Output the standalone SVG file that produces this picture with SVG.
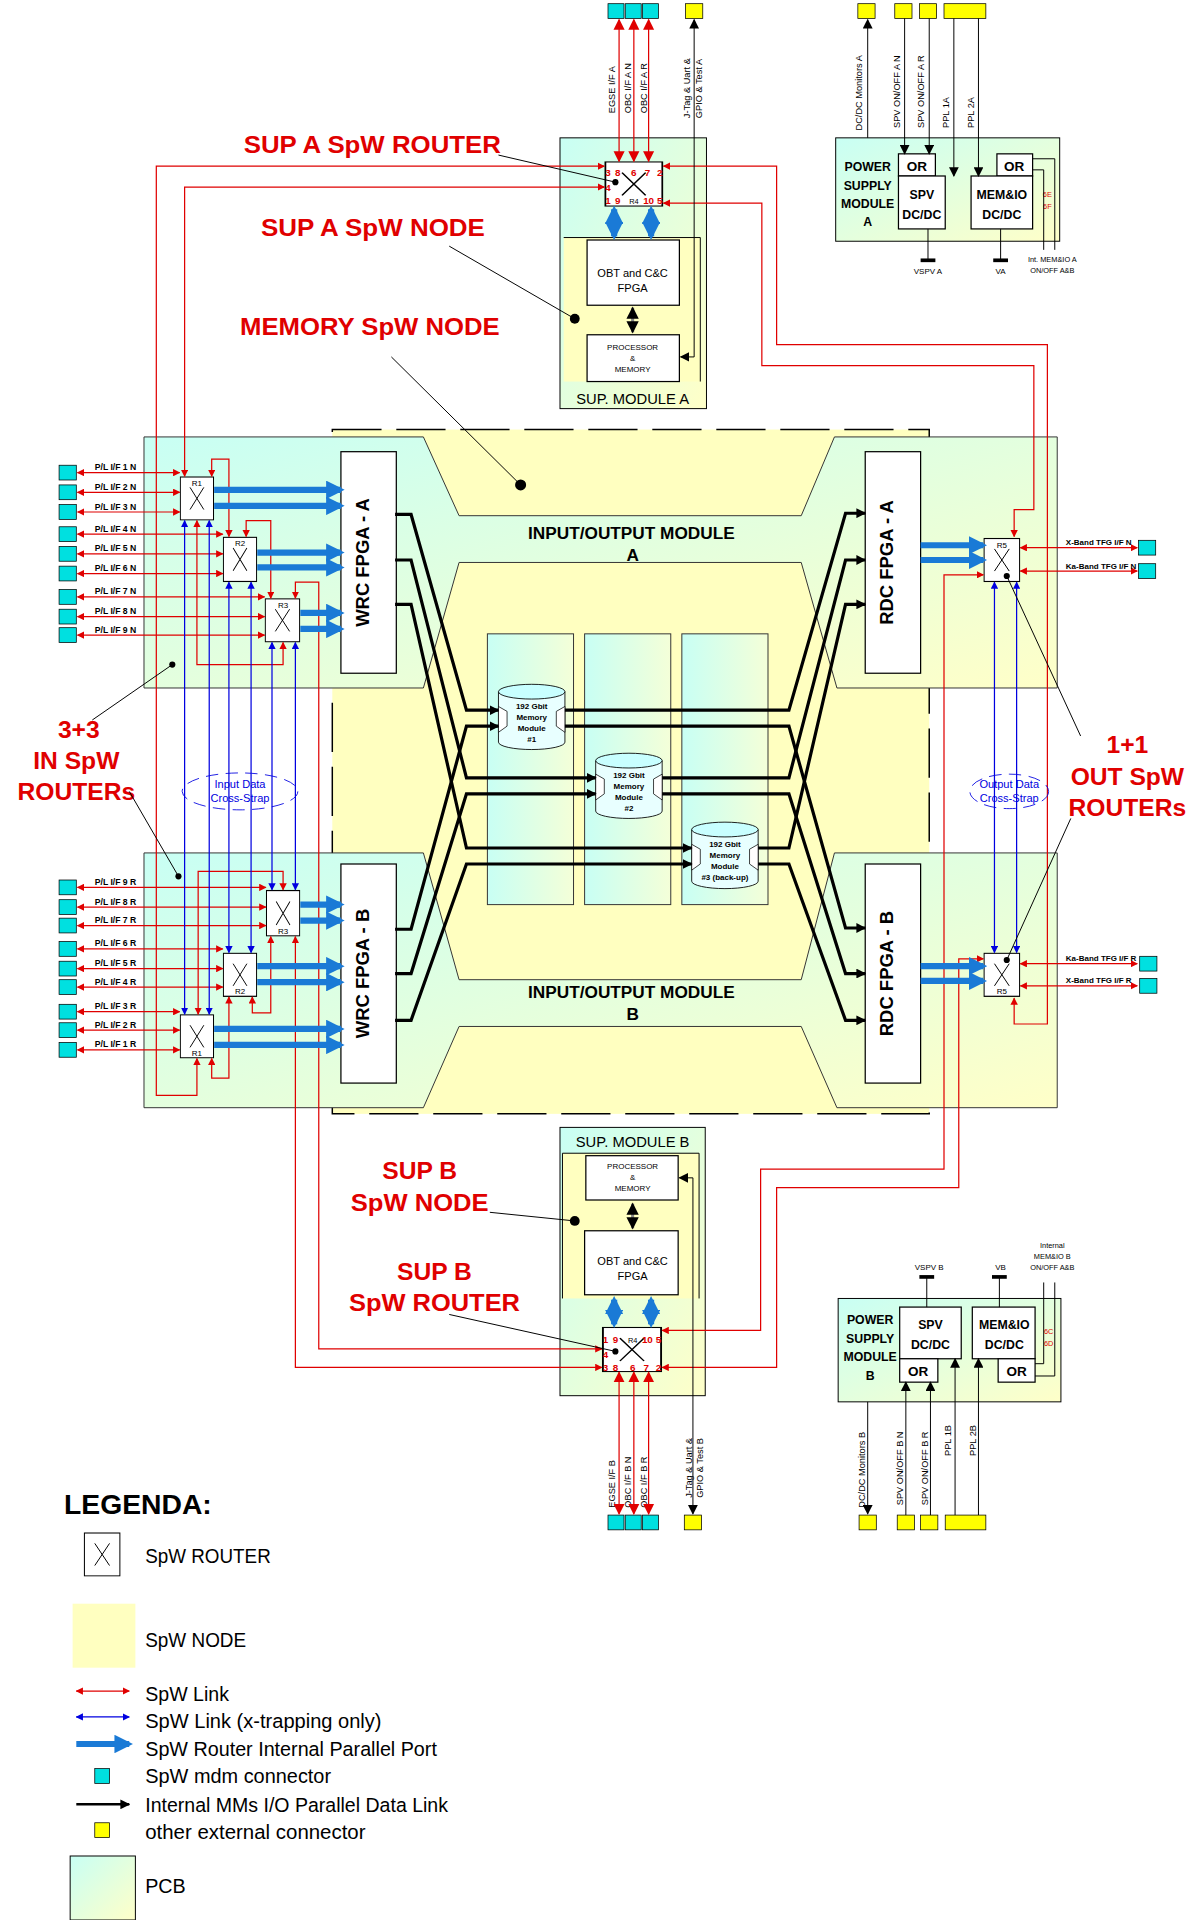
<svg xmlns="http://www.w3.org/2000/svg" width="1200" height="1920" viewBox="0 0 1200 1920">
<defs>
<linearGradient id="pcb" x1="0" y1="0" x2="1" y2="1"><stop offset="0" stop-color="#c8fff4"/><stop offset="1" stop-color="#ffffc8"/></linearGradient>
<linearGradient id="pcbv" x1="0" y1="0" x2="1" y2="0"><stop offset="0" stop-color="#c8fff4"/><stop offset="1" stop-color="#f4ffd8"/></linearGradient>
<marker id="ra" viewBox="0 0 10 10" refX="9" refY="5" markerWidth="6" markerHeight="6" markerUnits="userSpaceOnUse" orient="auto-start-reverse"><path d="M0,0L10,5L0,10z" fill="#e00000"/></marker>
<marker id="rb" viewBox="0 0 10 10" refX="9" refY="5" markerWidth="9" markerHeight="14" markerUnits="userSpaceOnUse" orient="auto-start-reverse"><path d="M0,0L10,5L0,10z" fill="#e00000"/></marker>
<marker id="ba" viewBox="0 0 10 10" refX="9" refY="5" markerWidth="6" markerHeight="6" markerUnits="userSpaceOnUse" orient="auto-start-reverse"><path d="M0,0L10,5L0,10z" fill="#0000e0"/></marker>
<marker id="bt" viewBox="0 0 10 10" refX="8" refY="5" markerWidth="3" markerHeight="3" orient="auto-start-reverse"><path d="M0,0L10,5L0,10z" fill="#1a7ad6"/></marker>
<marker id="ka" viewBox="0 0 10 10" refX="9" refY="5" markerWidth="4" markerHeight="4" orient="auto-start-reverse"><path d="M0,0L10,5L0,10z" fill="#000"/></marker>
<marker id="kt" viewBox="0 0 10 10" refX="9" refY="5" markerWidth="8" markerHeight="8" markerUnits="userSpaceOnUse" orient="auto-start-reverse"><path d="M0,0L10,5L0,10z" fill="#000"/></marker>
<symbol id="rt" viewBox="0 0 30 36" preserveAspectRatio="none"><rect x="0.5" y="0.5" width="29" height="35" fill="#fff" stroke="#000" stroke-width="1"/><path d="M9,9L21,27M21,9L9,27" stroke="#000" stroke-width="0.8" fill="none"/></symbol>
<style>
text{font-family:"Liberation Sans",Arial,sans-serif}
.t{font-size:7px;font-weight:bold}
.rl{fill:none;stroke:#e00000;stroke-width:1}
.bl{fill:none;stroke:#0000e0;stroke-width:1}
.bp{fill:none;stroke:#1a7ad6;stroke-width:5}
.kl{fill:none;stroke:#000;stroke-width:2.6}
.k1{fill:none;stroke:#000;stroke-width:0.8}
.red{fill:#e00000;font-weight:bold}
.pn{fill:#e00000;font-size:8px;font-weight:bold}
.mc{fill:#00e0e0;stroke:#000;stroke-width:0.6}
.yc{fill:#ffff00;stroke:#000;stroke-width:0.6}
.wb{fill:#fff;stroke:#000;stroke-width:1}
</style>
</defs>
<g transform="scale(1.230769)">
<!-- yellow central region -->
<g id="io-area">
<rect x="270" y="349" width="485" height="556" fill="#ffffc0"/>
<rect x="270" y="349" width="485" height="556" fill="none" stroke="#000" stroke-width="1.2" stroke-dasharray="40,12"/>
<polygon points="117,355 344,355 373,419 651,419 678,355 859,355 859,559 680,559 651,457 373,457 344,559 117,559" fill="url(#pcb)" stroke="#333" stroke-width="0.8"/>
<polygon points="117,693 344,693 373,796 651,796 678,693 859,693 859,900 680,900 651,834 373,834 344,900 117,900" fill="url(#pcb)" stroke="#333" stroke-width="0.8"/>
<text x="513" y="438" font-size="14" font-weight="bold" text-anchor="middle">INPUT/OUTPUT MODULE</text>
<text x="514" y="456" font-size="14" font-weight="bold" text-anchor="middle">A</text>
<text x="513" y="811" font-size="14" font-weight="bold" text-anchor="middle">INPUT/OUTPUT MODULE</text>
<text x="514" y="829" font-size="14" font-weight="bold" text-anchor="middle">B</text>
<rect x="396" y="515" width="70" height="220" fill="url(#pcbv)" stroke="#333" stroke-width="0.8"/>
<rect x="475" y="515" width="70" height="220" fill="url(#pcbv)" stroke="#333" stroke-width="0.8"/>
<rect x="554" y="515" width="70" height="220" fill="url(#pcbv)" stroke="#333" stroke-width="0.8"/>
</g>
<g id="fpgas">
<rect x="277" y="367" width="45" height="180" class="wb"/><text transform="translate(296,457) rotate(-90)" font-size="15" font-weight="bold" text-anchor="middle" dominant-baseline="middle">WRC FPGA - A</text>
<rect x="277" y="702" width="45" height="178" class="wb"/><text transform="translate(296,791) rotate(-90)" font-size="15" font-weight="bold" text-anchor="middle" dominant-baseline="middle">WRC FPGA - B</text>
<rect x="703" y="367" width="45" height="180" class="wb"/><text transform="translate(722,457) rotate(-90)" font-size="15" font-weight="bold" text-anchor="middle" dominant-baseline="middle">RDC FPGA - A</text>
<rect x="703" y="702" width="45" height="178" class="wb"/><text transform="translate(722,791) rotate(-90)" font-size="15" font-weight="bold" text-anchor="middle" dominant-baseline="middle">RDC FPGA - B</text>
</g>
<g id="memories">
<g id="mem1"><path d="M405,562 V603 A27,6 0 0 0 459,603 V562" fill="#e8ffff" stroke="#000" stroke-width="0.7"/><ellipse cx="432" cy="562" rx="27" ry="6" fill="#c8ffff" stroke="#000" stroke-width="0.7"/><path d="M405,574 L412,578 V590 L405,595z M459,574 L452,578 V590 L459,595z" fill="#fff" stroke="#000" stroke-width="0.6"/><text x="432" y="576" font-size="6.5" font-weight="bold" text-anchor="middle">192 Gbit</text><text x="432" y="585" font-size="6.5" font-weight="bold" text-anchor="middle">Memory</text><text x="432" y="594" font-size="6.5" font-weight="bold" text-anchor="middle">Module</text><text x="432" y="603" font-size="6.5" font-weight="bold" text-anchor="middle">#1</text></g>
<g id="mem2"><path d="M484,618 V659 A27,6 0 0 0 538,659 V618" fill="#e8ffff" stroke="#000" stroke-width="0.7"/><ellipse cx="511" cy="618" rx="27" ry="6" fill="#c8ffff" stroke="#000" stroke-width="0.7"/><path d="M484,629 L491,633 V645 L484,650z M538,629 L531,633 V645 L538,650z" fill="#fff" stroke="#000" stroke-width="0.6"/><text x="511" y="632" font-size="6.5" font-weight="bold" text-anchor="middle">192 Gbit</text><text x="511" y="641" font-size="6.5" font-weight="bold" text-anchor="middle">Memory</text><text x="511" y="650" font-size="6.5" font-weight="bold" text-anchor="middle">Module</text><text x="511" y="659" font-size="6.5" font-weight="bold" text-anchor="middle">#2</text></g>
<g id="mem3"><path d="M562,674 V716 A27,6 0 0 0 616,716 V674" fill="#e8ffff" stroke="#000" stroke-width="0.7"/><ellipse cx="589" cy="674" rx="27" ry="6" fill="#c8ffff" stroke="#000" stroke-width="0.7"/><path d="M562,686 L569,690 V702 L562,707z M616,686 L609,690 V702 L616,707z" fill="#fff" stroke="#000" stroke-width="0.6"/><text x="589" y="688" font-size="6.5" font-weight="bold" text-anchor="middle">192 Gbit</text><text x="589" y="697" font-size="6.5" font-weight="bold" text-anchor="middle">Memory</text><text x="589" y="706" font-size="6.5" font-weight="bold" text-anchor="middle">Module</text><text x="589" y="715" font-size="6.5" font-weight="bold" text-anchor="middle">#3 (back-up)</text></g>
</g>
<!-- SUP module A -->
<g id="sup-a">
<rect x="455" y="112" width="119" height="220" fill="url(#pcb)" stroke="#000" stroke-width="0.8"/>
<rect x="458" y="193" width="111" height="117" fill="#ffffc0"/>
<polyline points="458,193 569,193 569,310" class="k1"/>
<rect x="477" y="195" width="75" height="53" class="wb"/><text x="514" y="225" font-size="9" text-anchor="middle">OBT and C&amp;C</text><text x="514" y="237" font-size="9" text-anchor="middle">FPGA</text>
<rect x="477" y="272" width="75" height="38" class="wb"/><text x="514" y="284" font-size="6.5" text-anchor="middle">PROCESSOR</text><text x="514" y="293" font-size="6.5" text-anchor="middle">&amp;</text><text x="514" y="302" font-size="6.5" text-anchor="middle">MEMORY</text>
<line x1="514" y1="250" x2="514" y2="270" stroke="#888" stroke-width="2.5" marker-start="url(#ka)" marker-end="url(#ka)"/>
<text x="514" y="328" font-size="12" text-anchor="middle">SUP. MODULE A</text>
</g>
<g id="router-r4a"><use href="#rt" x="491" y="131" width="48" height="37"/>
<text class="pn" x="494" y="143" text-anchor="middle">3</text><text class="pn" x="502" y="143" text-anchor="middle">8</text><text class="pn" x="515" y="143" text-anchor="middle">6</text><text class="pn" x="526" y="143" text-anchor="middle">7</text><text class="pn" x="536" y="143" text-anchor="middle">2</text>
<text class="pn" x="494" y="155" text-anchor="middle">4</text>
<text class="pn" x="494" y="166" text-anchor="middle">1</text><text class="pn" x="502" y="166" text-anchor="middle">9</text><text x="515" y="166" font-size="6" text-anchor="middle">R4</text><text class="pn" x="527" y="166" text-anchor="middle">10</text><text class="pn" x="536" y="166" text-anchor="middle">5</text></g>
<!-- SUP module B -->
<g id="sup-b">
<rect x="455" y="916" width="118" height="218" fill="url(#pcb)" stroke="#000" stroke-width="0.8"/>
<rect x="457" y="937" width="111" height="118" fill="#ffffc0"/>
<polyline points="457,1055 457,937 568,937 568,1055" class="k1"/>
<rect x="476" y="939" width="75" height="36" class="wb"/><text x="514" y="950" font-size="6.5" text-anchor="middle">PROCESSOR</text><text x="514" y="959" font-size="6.5" text-anchor="middle">&amp;</text><text x="514" y="968" font-size="6.5" text-anchor="middle">MEMORY</text>
<rect x="475" y="1000" width="76" height="52" class="wb"/><text x="514" y="1028" font-size="9" text-anchor="middle">OBT and C&amp;C</text><text x="514" y="1040" font-size="9" text-anchor="middle">FPGA</text>
<line x1="514" y1="978" x2="514" y2="998" stroke="#888" stroke-width="2.5" marker-start="url(#ka)" marker-end="url(#ka)"/>
<text x="514" y="932" font-size="12" text-anchor="middle">SUP. MODULE B</text>
</g>
<g id="router-r4b"><use href="#rt" x="489" y="1078" width="49" height="37"/>
<text class="pn" x="492" y="1091" text-anchor="middle">1</text><text class="pn" x="500" y="1091" text-anchor="middle">9</text><text x="514" y="1091" font-size="6" text-anchor="middle">R4</text><text class="pn" x="526" y="1091" text-anchor="middle">10</text><text class="pn" x="535" y="1091" text-anchor="middle">5</text>
<text class="pn" x="492" y="1103" text-anchor="middle">4</text>
<text class="pn" x="492" y="1114" text-anchor="middle">3</text><text class="pn" x="500" y="1114" text-anchor="middle">8</text><text class="pn" x="514" y="1114" text-anchor="middle">6</text><text class="pn" x="525" y="1114" text-anchor="middle">7</text><text class="pn" x="535" y="1114" text-anchor="middle">2</text></g>
<!-- power supply A -->
<g id="psu-a">
<rect x="679" y="112" width="182" height="84" fill="url(#pcb)" stroke="#000" stroke-width="0.8"/>
<text font-size="10" font-weight="bold" text-anchor="middle"><tspan x="705" y="139">POWER</tspan><tspan x="705" y="154">SUPPLY</tspan><tspan x="705" y="169">MODULE</tspan><tspan x="705" y="184">A</tspan></text>
<rect x="730" y="125" width="30" height="18" class="wb"/><text x="745" y="139" font-size="11" font-weight="bold" text-anchor="middle">OR</text>
<rect x="730" y="143" width="38" height="43" class="wb"/><text x="749" y="162" font-size="10" font-weight="bold" text-anchor="middle">SPV</text><text x="749" y="178" font-size="10" font-weight="bold" text-anchor="middle">DC/DC</text>
<rect x="810" y="125" width="29" height="18" class="wb"/><text x="824" y="139" font-size="11" font-weight="bold" text-anchor="middle">OR</text>
<rect x="789" y="143" width="50" height="43" class="wb"/><text x="814" y="162" font-size="10" font-weight="bold" text-anchor="middle">MEM&amp;IO</text><text x="814" y="178" font-size="10" font-weight="bold" text-anchor="middle">DC/DC</text>
<text x="851" y="160" font-size="6" fill="#e00000" text-anchor="middle">6E</text><text x="851" y="170" font-size="6" fill="#e00000" text-anchor="middle">6F</text>
<polyline points="839,129 857,129 857,203" class="k1"/><polyline points="839,138 848,138 848,203" class="k1"/>
<line x1="754" y1="186" x2="754" y2="211" class="k1"/><rect x="748" y="210" width="12" height="3"/>
<line x1="813" y1="186" x2="813" y2="211" class="k1"/><rect x="807" y="210" width="12" height="3"/>
<text x="754" y="223" font-size="6.5" text-anchor="middle">VSPV A</text><text x="813" y="223" font-size="6.5" text-anchor="middle">VA</text>
<text x="855" y="213" font-size="6" text-anchor="middle">Int. MEM&amp;IO A</text><text x="855" y="222" font-size="6" text-anchor="middle">ON/OFF A&amp;B</text>
</g>
<!-- power supply B -->
<g id="psu-b">
<rect x="681" y="1055" width="181" height="84" fill="url(#pcb)" stroke="#000" stroke-width="0.8"/>
<text font-size="10" font-weight="bold" text-anchor="middle"><tspan x="707" y="1076">POWER</tspan><tspan x="707" y="1091">SUPPLY</tspan><tspan x="707" y="1106">MODULE</tspan><tspan x="707" y="1121">B</tspan></text>
<rect x="731" y="1062" width="50" height="42" class="wb"/><text x="756" y="1080" font-size="10" font-weight="bold" text-anchor="middle">SPV</text><text x="756" y="1096" font-size="10" font-weight="bold" text-anchor="middle">DC/DC</text>
<rect x="731" y="1104" width="31" height="19" class="wb"/><text x="746" y="1118" font-size="11" font-weight="bold" text-anchor="middle">OR</text>
<rect x="790" y="1062" width="51" height="42" class="wb"/><text x="816" y="1080" font-size="10" font-weight="bold" text-anchor="middle">MEM&amp;IO</text><text x="816" y="1096" font-size="10" font-weight="bold" text-anchor="middle">DC/DC</text>
<rect x="811" y="1104" width="30" height="19" class="wb"/><text x="826" y="1118" font-size="11" font-weight="bold" text-anchor="middle">OR</text>
<text x="852" y="1084" font-size="6" fill="#e00000" text-anchor="middle">6C</text><text x="852" y="1094" font-size="6" fill="#e00000" text-anchor="middle">6D</text>
<polyline points="841,1108 848,1108 848,1042" class="k1"/><polyline points="841,1118 857,1118 857,1042" class="k1"/>
<line x1="753" y1="1062" x2="753" y2="1038" class="k1"/><rect x="747" y="1036" width="12" height="3"/>
<line x1="812" y1="1062" x2="812" y2="1038" class="k1"/><rect x="806" y="1036" width="12" height="3"/>
<text x="755" y="1032" font-size="6.5" text-anchor="middle">VSPV B</text><text x="813" y="1032" font-size="6.5" text-anchor="middle">VB</text>
<text x="855" y="1014" font-size="6" text-anchor="middle">Internal</text><text x="855" y="1023" font-size="6" text-anchor="middle">MEM&amp;IO B</text><text x="855" y="1032" font-size="6" text-anchor="middle">ON/OFF A&amp;B</text>
</g>
<!-- routers -->
<g id="router-r1a"><use href="#rt" x="146" y="387" width="28" height="36"/><text x="160" y="395" font-size="6.5" text-anchor="middle">R1</text></g>
<g id="router-r2a"><use href="#rt" x="181" y="436" width="28" height="37"/><text x="195" y="444" font-size="6.5" text-anchor="middle">R2</text></g>
<g id="router-r3a"><use href="#rt" x="215" y="486" width="29" height="36"/><text x="230" y="494" font-size="6.5" text-anchor="middle">R3</text></g>
<g id="router-r3b"><use href="#rt" x="216" y="723" width="28" height="38"/><text x="230" y="759" font-size="6.5" text-anchor="middle">R3</text></g>
<g id="router-r2b"><use href="#rt" x="181" y="774" width="28" height="36"/><text x="195" y="808" font-size="6.5" text-anchor="middle">R2</text></g>
<g id="router-r1b"><use href="#rt" x="146" y="824" width="28" height="36"/><text x="160" y="858" font-size="6.5" text-anchor="middle">R1</text></g>
<g id="router-r5a"><use href="#rt" x="799" y="437" width="30" height="36"/><text x="814" y="445" font-size="6.5" text-anchor="middle">R5</text></g>
<g id="router-r5b"><use href="#rt" x="799" y="774" width="30" height="36"/><text x="814" y="808" font-size="6.5" text-anchor="middle">R5</text></g>
<!-- connectors -->
<g id="connectors">
<g id="pl-links" class="t">
<g class="rl" marker-start="url(#ra)" marker-end="url(#ra)">
<line x1="63" y1="384" x2="146" y2="384"/><line x1="63" y1="400" x2="146" y2="400"/><line x1="63" y1="416" x2="146" y2="416"/>
<line x1="63" y1="434" x2="181" y2="434"/><line x1="63" y1="450" x2="181" y2="450"/><line x1="63" y1="466" x2="181" y2="466"/>
<line x1="63" y1="485" x2="215" y2="485"/><line x1="63" y1="501" x2="215" y2="501"/><line x1="63" y1="516" x2="215" y2="516"/>
<line x1="63" y1="721" x2="216" y2="721"/><line x1="63" y1="737" x2="216" y2="737"/><line x1="63" y1="752" x2="216" y2="752"/>
<line x1="63" y1="771" x2="181" y2="771"/><line x1="63" y1="787" x2="181" y2="787"/><line x1="63" y1="802" x2="181" y2="802"/>
<line x1="63" y1="822" x2="146" y2="822"/><line x1="63" y1="837" x2="146" y2="837"/><line x1="63" y1="853" x2="146" y2="853"/>
<line x1="829" y1="445" x2="924" y2="445"/><line x1="829" y1="464" x2="924" y2="464"/>
<line x1="829" y1="783" x2="924" y2="783"/><line x1="829" y1="801" x2="924" y2="801"/>
</g>
<g fill="#000">
<text x="77" y="382">P/L I/F 1 N</text><text x="77" y="398">P/L I/F 2 N</text><text x="77" y="414">P/L I/F 3 N</text>
<text x="77" y="432">P/L I/F 4 N</text><text x="77" y="448">P/L I/F 5 N</text><text x="77" y="464">P/L I/F 6 N</text>
<text x="77" y="483">P/L I/F 7 N</text><text x="77" y="499">P/L I/F 8 N</text><text x="77" y="514">P/L I/F 9 N</text>
<text x="77" y="719">P/L I/F 9 R</text><text x="77" y="735">P/L I/F 8 R</text><text x="77" y="750">P/L I/F 7 R</text>
<text x="77" y="769">P/L I/F 6 R</text><text x="77" y="785">P/L I/F 5 R</text><text x="77" y="800">P/L I/F 4 R</text>
<text x="77" y="820">P/L I/F 3 R</text><text x="77" y="835">P/L I/F 2 R</text><text x="77" y="851">P/L I/F 1 R</text>
<text x="866" y="443" font-size="6.5">X-Band TFG I/F N</text><text x="866" y="462" font-size="6.5">Ka-Band TFG I/F N</text>
<text x="866" y="781" font-size="6.5">Ka-Band TFG I/F R</text><text x="866" y="799" font-size="6.5">X-Band TFG I/F R</text>
</g>
</g>
<g class="mc">
<rect x="48" y="378" width="14" height="12"/><rect x="48" y="394" width="14" height="12"/><rect x="48" y="410" width="14" height="12"/>
<rect x="48" y="428" width="14" height="12"/><rect x="48" y="444" width="14" height="12"/><rect x="48" y="460" width="14" height="12"/>
<rect x="48" y="479" width="14" height="12"/><rect x="48" y="495" width="14" height="12"/><rect x="48" y="510" width="14" height="12"/>
<rect x="48" y="715" width="14" height="12"/><rect x="48" y="731" width="14" height="12"/><rect x="48" y="746" width="14" height="12"/>
<rect x="48" y="765" width="14" height="12"/><rect x="48" y="781" width="14" height="12"/><rect x="48" y="796" width="14" height="12"/>
<rect x="48" y="816" width="14" height="12"/><rect x="48" y="831" width="14" height="12"/><rect x="48" y="847" width="14" height="12"/>
<rect x="925" y="439" width="14" height="12"/><rect x="925" y="458" width="14" height="12"/>
<rect x="926" y="777" width="14" height="12"/><rect x="926" y="795" width="14" height="12"/>
<rect x="494" y="3" width="13" height="12"/><rect x="508" y="3" width="13" height="12"/><rect x="522" y="3" width="13" height="12"/>
<rect x="494" y="1231" width="13" height="12"/><rect x="508" y="1231" width="13" height="12"/><rect x="522" y="1231" width="13" height="12"/>
</g>
<g class="yc">
<rect x="557" y="3" width="14" height="12"/><rect x="697" y="3" width="14" height="12"/><rect x="727" y="3" width="14" height="12"/><rect x="747" y="3" width="14" height="12"/><rect x="767" y="3" width="34" height="12"/>
<rect x="556" y="1231" width="14" height="12"/><rect x="698" y="1231" width="14" height="12"/><rect x="729" y="1231" width="14" height="12"/><rect x="748" y="1231" width="14" height="12"/><rect x="768" y="1231" width="33" height="12"/>
</g>
<g font-size="7.5" fill="#000">
<text transform="translate(500,92) rotate(-90)">EGSE I/F A</text><text transform="translate(513,92) rotate(-90)">OBC I/F A N</text><text transform="translate(526,92) rotate(-90)">OBC I/F A R</text>
<text transform="translate(561,96) rotate(-90)">J-Tag &amp; Uart &amp;</text><text transform="translate(570,96) rotate(-90)">GPIO &amp; Test A</text>
<text transform="translate(700,106) rotate(-90)">DC/DC Monitors A</text><text transform="translate(731,104) rotate(-90)">SPV ON/OFF A N</text><text transform="translate(751,104) rotate(-90)">SPV ON/OFF A R</text>
<text transform="translate(771,104) rotate(-90)">PPL 1A</text><text transform="translate(791,104) rotate(-90)">PPL 2A</text>
<text transform="translate(500,1225) rotate(-90)">EGSE I/F B</text><text transform="translate(513,1225) rotate(-90)">OBC I/F B N</text><text transform="translate(526,1225) rotate(-90)">OBC I/F B R</text>
<text transform="translate(562,1217) rotate(-90)">J-Tag &amp; Uart &amp;</text><text transform="translate(571,1217) rotate(-90)">GPIO &amp; Test B</text>
<text transform="translate(703,1225) rotate(-90)">DC/DC Monitors B</text><text transform="translate(734,1223) rotate(-90)">SPV ON/OFF B N</text><text transform="translate(754,1223) rotate(-90)">SPV ON/OFF B R</text>
<text transform="translate(773,1183) rotate(-90)">PPL 1B</text><text transform="translate(793,1183) rotate(-90)">PPL 2B</text>
</g>
<!-- red SpW links -->
<g class="rl" marker-start="url(#ra)" marker-end="url(#ra)">
<polyline points="160,860 160,890 127,890 127,135 491,135"/>
<polyline points="150,387 150,152 491,152"/>
<polyline points="539,135 631,135 631,280 851,280 851,832 824,832 824,811"/>
<polyline points="539,165 619,165 619,297 840,297 840,414 824,414 824,436"/>
<polyline points="240,486 240,473 259,473 259,1096 489,1096"/>
<polyline points="240,761 240,1111 489,1111"/>
<polyline points="538,1081 618,1081 618,950 767,950 767,467 799,467"/>
<polyline points="538,1111 631,1111 631,965 779,965 779,779 799,779"/>
<polyline points="172,387 172,373 186,373 186,436"/>
<polyline points="200,436 200,423 220,423 220,486"/>
<polyline points="160,423 160,540 230,540 230,522"/>
<polyline points="230,723 230,708 161,708 161,824"/>
<polyline points="172,860 172,876 186,876 186,810"/>
<polyline points="205,810 205,823 220,823 220,761"/>
</g>
<g class="rl" marker-start="url(#rb)" marker-end="url(#rb)">
<line x1="503" y1="16" x2="503" y2="131"/><line x1="515" y1="16" x2="515" y2="131"/><line x1="527" y1="16" x2="527" y2="131"/>
<line x1="503" y1="1115" x2="503" y2="1230"/><line x1="515" y1="1115" x2="515" y2="1230"/><line x1="527" y1="1115" x2="527" y2="1230"/>
</g>
<!-- blue cross-strap -->
<g class="bl" marker-start="url(#ba)" marker-end="url(#ba)">
<line x1="150" y1="423" x2="150" y2="824"/><line x1="170" y1="423" x2="170" y2="824"/>
<line x1="186" y1="473" x2="186" y2="774"/><line x1="204" y1="473" x2="204" y2="774"/>
<line x1="221" y1="522" x2="221" y2="723"/><line x1="240" y1="522" x2="240" y2="723"/>
<line x1="808" y1="473" x2="808" y2="774"/><line x1="826" y1="473" x2="826" y2="774"/>
</g>
<!-- parallel ports -->
<g class="bp" marker-end="url(#bt)">
<line x1="174" y1="398" x2="277" y2="398"/><line x1="174" y1="411" x2="277" y2="411"/>
<line x1="209" y1="449" x2="277" y2="449"/><line x1="209" y1="461" x2="277" y2="461"/>
<line x1="244" y1="498" x2="277" y2="498"/><line x1="244" y1="511" x2="277" y2="511"/>
<line x1="244" y1="735" x2="277" y2="735"/><line x1="244" y1="748" x2="277" y2="748"/>
<line x1="209" y1="785" x2="277" y2="785"/><line x1="209" y1="798" x2="277" y2="798"/>
<line x1="174" y1="836" x2="277" y2="836"/><line x1="174" y1="849" x2="277" y2="849"/>
<line x1="748" y1="443" x2="799" y2="443"/><line x1="748" y1="455" x2="799" y2="455"/>
<line x1="748" y1="785" x2="799" y2="785"/><line x1="748" y1="797" x2="799" y2="797"/>
</g>
<g class="bp" marker-start="url(#bt)" marker-end="url(#bt)">
<line x1="499" y1="170" x2="499" y2="192"/><line x1="529" y1="170" x2="529" y2="192"/>
<line x1="499" y1="1056" x2="499" y2="1076"/><line x1="529" y1="1056" x2="529" y2="1076"/>
</g>
<!-- internal data links -->
<g class="kl" marker-end="url(#kt)">
<polyline points="321,418 334,418 379,577 405,577"/>
<polyline points="321,455 334,455 379,632 484,632"/>
<polyline points="321,491 334,491 379,689 562,689"/>
<polyline points="321,755 334,755 379,590 405,590"/>
<polyline points="321,791 334,791 379,645 484,645"/>
<polyline points="321,829 334,829 379,702 562,702"/>
<polyline points="459,577 641,577 687,417 703,417"/>
<polyline points="459,590 641,590 687,754 703,754"/>
<polyline points="538,632 641,632 687,455 703,455"/>
<polyline points="538,645 641,645 687,791 703,791"/>
<polyline points="616,689 641,689 687,491 703,491"/>
<polyline points="616,702 641,702 687,829 703,829"/>
</g>
<!-- black control lines -->
<g class="k1" marker-start="url(#kt)" marker-end="url(#kt)">
<polyline points="564,16 564,290 553,290"/>
<polyline points="552,957 563,957 563,1230"/>
</g>
<g class="k1" marker-end="url(#kt)">
<line x1="705" y1="112" x2="705" y2="16"/>
<line x1="735" y1="15" x2="735" y2="125"/><line x1="755" y1="15" x2="755" y2="125"/>
<line x1="775" y1="15" x2="775" y2="143"/><line x1="795" y1="15" x2="795" y2="143"/>
<line x1="705" y1="1139" x2="705" y2="1230"/>
<line x1="736" y1="1231" x2="736" y2="1123"/><line x1="756" y1="1231" x2="756" y2="1123"/>
<line x1="776" y1="1231" x2="776" y2="1104"/><line x1="795" y1="1231" x2="795" y2="1104"/>
</g>
</g>
<!-- annotations -->
<g id="annotations">
<g class="red" font-size="20">
<text x="198" y="124" textLength="209" lengthAdjust="spacingAndGlyphs">SUP A SpW ROUTER</text>
<text x="212" y="192" textLength="182" lengthAdjust="spacingAndGlyphs">SUP A SpW NODE</text>
<text x="195" y="272" textLength="211" lengthAdjust="spacingAndGlyphs">MEMORY SpW NODE</text>
<text x="64" y="600" text-anchor="middle">3+3</text><text x="62" y="625" text-anchor="middle">IN SpW</text><text x="62" y="650" text-anchor="middle">ROUTERs</text>
<text x="916" y="612" text-anchor="middle">1+1</text><text x="916" y="638" text-anchor="middle">OUT SpW</text><text x="916" y="663" text-anchor="middle">ROUTERs</text>
<text x="341" y="958" text-anchor="middle">SUP B</text><text x="341" y="984" text-anchor="middle" textLength="112" lengthAdjust="spacingAndGlyphs">SpW NODE</text>
<text x="353" y="1040" text-anchor="middle">SUP B</text><text x="353" y="1065" text-anchor="middle" textLength="139" lengthAdjust="spacingAndGlyphs">SpW ROUTER</text>
</g>
<g class="k1" stroke-width="0.7">
<line x1="405" y1="126" x2="500" y2="148"/><line x1="365" y1="200" x2="467" y2="259"/><line x1="318" y1="290" x2="423" y2="394"/>
<line x1="75" y1="585" x2="140" y2="540"/><line x1="105" y1="643" x2="145" y2="712"/>
<line x1="878" y1="598" x2="818" y2="468"/><line x1="870" y1="665" x2="818" y2="780"/>
<line x1="398" y1="985" x2="467" y2="992"/><line x1="365" y1="1068" x2="500" y2="1098"/>
</g>
<g fill="#000">
<circle cx="500" cy="148" r="2.5"/><circle cx="467" cy="259" r="4"/><circle cx="423" cy="394" r="4.5"/>
<circle cx="140" cy="540" r="2.5"/><circle cx="145" cy="712" r="2.5"/><circle cx="818" cy="468" r="2.5"/><circle cx="818" cy="780" r="2.5"/>
<circle cx="467" cy="992" r="4"/><circle cx="500" cy="1098" r="2.5"/>
</g>
<g fill="#0000e0" font-size="9" text-anchor="middle">
<text x="195" y="640">Input Data</text><text x="195" y="652">Cross-Strap</text>
<text x="820" y="640">Output Data</text><text x="820" y="652">Cross-Strap</text>
</g>
<ellipse cx="195" cy="643" rx="47" ry="15" fill="none" stroke="#0000e0" stroke-width="0.7" stroke-dasharray="10,6"/>
<ellipse cx="820" cy="643" rx="32" ry="14" fill="none" stroke="#0000e0" stroke-width="0.7" stroke-dasharray="10,6"/>
</g>
<!-- legend -->
<g id="legend" font-size="16">
<text x="52" y="1230" font-size="23" font-weight="bold">LEGENDA:</text>
<use href="#rt" x="68" y="1245" width="30" height="36"/>
<text x="118" y="1270" textLength="102" lengthAdjust="spacingAndGlyphs">SpW ROUTER</text>
<rect x="59" y="1303" width="51" height="52" fill="#ffffc0"/>
<text x="118" y="1338" textLength="82" lengthAdjust="spacingAndGlyphs">SpW NODE</text>
<line x1="62" y1="1374" x2="105" y2="1374" class="rl" stroke-width="1.5" marker-start="url(#ra)" marker-end="url(#ra)"/>
<text x="118" y="1382" textLength="68" lengthAdjust="spacingAndGlyphs">SpW Link</text>
<line x1="62" y1="1395" x2="105" y2="1395" class="bl" stroke-width="1.5" marker-start="url(#ba)" marker-end="url(#ba)"/>
<text x="118" y="1404" textLength="192" lengthAdjust="spacingAndGlyphs">SpW Link (x-trapping only)</text>
<line x1="62" y1="1417" x2="105" y2="1417" class="bp" marker-end="url(#bt)"/>
<text x="118" y="1427" textLength="237" lengthAdjust="spacingAndGlyphs">SpW Router Internal Parallel Port</text>
<rect x="77" y="1437" width="12" height="12" class="mc"/>
<text x="118" y="1449" textLength="151" lengthAdjust="spacingAndGlyphs">SpW mdm connector</text>
<line x1="62" y1="1466" x2="105" y2="1466" stroke="#000" stroke-width="2" marker-end="url(#kt)"/>
<text x="118" y="1472" textLength="246" lengthAdjust="spacingAndGlyphs">Internal MMs I/O Parallel Data Link</text>
<rect x="77" y="1481" width="12" height="12" class="yc"/>
<text x="118" y="1494" textLength="179" lengthAdjust="spacingAndGlyphs">other external connector</text>
<rect x="57" y="1508" width="53" height="52" fill="url(#pcb)" stroke="#000" stroke-width="0.8"/>
<text x="118" y="1538">PCB</text>
</g>
</g>
</svg>
